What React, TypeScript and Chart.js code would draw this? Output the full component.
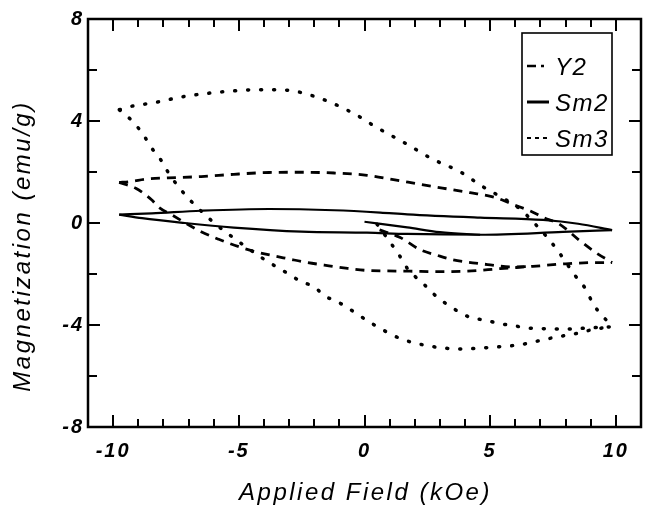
import React, { useEffect, useRef } from 'react';
import { Chart, registerables } from 'chart.js';

Chart.register(...registerables);

// ---- Data (Applied Field kOe, Magnetization emu/g) ----
const seriesNames = ['Y2', 'Sm2', 'Sm3'];

const y2Upper = [
  [-9.76, 1.59], [-9.37, 1.62], [-8.6, 1.73], [-7.8, 1.77], [-6.5, 1.82], [-5.2, 1.91],
  [-3.8, 1.98], [-2.5, 1.99], [-1.2, 1.96], [0.1, 1.87], [1.15, 1.7], [2.2, 1.52],
  [3.1, 1.37], [4.2, 1.19], [5.2, 1.0], [5.9, 0.73], [6.6, 0.47], [7.15, 0.2],
  [7.75, -0.04], [8.5, -0.64], [9.2, -1.16], [9.85, -1.55],
];
const y2Lower = [
  [-9.76, 1.59], [-9.1, 1.36], [-8.46, 0.9], [-8.2, 0.63], [-7.67, 0.32], [-6.5, -0.34],
  [-5.8, -0.64], [-5.0, -0.93], [-4.4, -1.11], [-3.7, -1.27], [-3.0, -1.41], [-2.4, -1.53],
  [-1.6, -1.65], [-0.67, -1.78], [0.1, -1.86], [0.9, -1.88], [1.8, -1.89], [2.9, -1.91],
  [4.1, -1.89], [5.4, -1.79], [6.7, -1.7], [8.0, -1.6], [9.3, -1.55], [9.85, -1.55],
];
const y2Virgin = [
  [0.6, -0.27], [1.42, -0.57], [2.2, -1.04], [2.9, -1.27], [3.5, -1.44], [4.3, -1.56],
  [4.9, -1.63], [5.8, -1.72], [6.7, -1.7],
];

const sm2Upper = [
  [-9.76, 0.33], [-8.46, 0.38], [-6.5, 0.48], [-3.8, 0.55], [-1.2, 0.5], [0.63, 0.41],
  [1.7, 0.34], [4.6, 0.21], [7.1, 0.12], [8.5, -0.03], [9.85, -0.28],
];
const sm2Lower = [
  [-9.76, 0.33], [-8.85, 0.19], [-7.15, 0.0], [-5.2, -0.18], [-2.5, -0.34], [0.1, -0.38],
  [1.7, -0.43], [4.6, -0.46], [7.9, -0.35], [9.85, -0.28],
];
const sm2Virgin = [
  [0.0, 0.05], [1.7, -0.17], [3.0, -0.36], [4.6, -0.46],
];

const sm3Upper = [
  [-9.75, 4.44], [-9.4, 4.55], [-8.3, 4.73], [-7.3, 4.94], [-6.2, 5.09], [-5.2, 5.18],
  [-4.2, 5.23], [-3.1, 5.21], [-2.1, 5.0], [-1.07, 4.61], [-0.08, 4.1], [0.36, 3.82],
  [1.6, 3.14], [2.7, 2.51], [3.8, 2.01], [4.7, 1.43], [5.5, 0.98], [6.2, 0.54],
  [6.8, -0.05], [7.3, -0.6], [7.7, -1.1], [8.4, -2.09], [8.8, -2.59], [9.1, -3.18],
  [9.5, -3.68], [9.85, -4.03],
];
const sm3Lower = [
  [-9.75, 4.44], [-9.2, 3.96], [-8.8, 3.46], [-8.46, 2.93], [-8.1, 2.47], [-7.8, 1.97],
  [-7.4, 1.42], [-6.96, 0.92], [-6.0, 0.02], [-5.5, -0.37], [-4.0, -1.42], [-3.5, -1.72],
  [-3.0, -2.01], [-2.5, -2.31], [-2.0, -2.5], [-1.6, -2.85], [-1.07, -3.09], [0.36, -3.98],
  [1.4, -4.52], [2.5, -4.81], [3.8, -4.94], [5.1, -4.87], [6.2, -4.77], [7.2, -4.56],
  [7.75, -4.45], [8.3, -4.36], [8.8, -4.24], [9.5, -4.11], [9.9, -4.07],
];
const sm3Virgin = [
  [0.5, -0.05], [1.03, -0.77], [1.4, -1.29], [1.74, -1.83], [2.3, -2.34], [2.77, -2.8],
  [3.3, -3.2], [4.2, -3.7], [4.8, -3.81], [5.4, -3.95], [5.9, -4.02], [6.4, -4.11],
  [7.0, -4.14], [8.0, -4.16], [9.0, -4.11], [9.85, -4.07],
];

const xTickValues = [-10, -5, 0, 5, 10];
const xTickLabels = ['-10', '-5', '0', '5', '10'];
const yTickValues = [-8, -4, 0, 4, 8];
const yTickLabels = ['-8', '-4', '0', '4', '8'];
const xMinorTickValues = [-10, -9, -8, -7, -6, -5, -4, -3, -2, -1, 0, 1, 2, 3, 4, 5, 6, 7, 8, 9, 10];
const yMinorTickValues = [-6, -4, -2, 0, 2, 4, 6];

const xTitle = 'Applied Field (kOe)';
const yTitle = 'Magnetization (emu/g)';

const FONT = '"Liberation Sans", Arial, Helvetica, sans-serif';
const INK = '#000';

const lineStyles: Record<string, any> = {
  Y2: { borderDash: [9, 7], borderWidth: 2.8, borderCapStyle: 'butt' },
  Sm2: { borderDash: [], borderWidth: 2.2, borderCapStyle: 'butt' },
  Sm3: { borderDash: [1, 12], borderWidth: 3.5, borderCapStyle: 'round' },
};

const toPts = (arr: number[][]) => arr.map(([x, y]) => ({ x, y }));

function makeDatasets() {
  const groups: [string, number[][][]][] = [
    ['Sm3', [sm3Upper, sm3Lower, sm3Virgin]],
    ['Y2', [y2Upper, y2Lower, y2Virgin]],
    ['Sm2', [sm2Upper, sm2Lower, sm2Virgin]],
  ];
  const out: any[] = [];
  for (const [name, branches] of groups) {
    branches.forEach((b, i) => {
      out.push({
        label: i === 0 ? name : name + ' branch ' + i,
        data: toPts(b),
        showLine: true,
        pointRadius: 0,
        borderColor: INK,
        backgroundColor: INK,
        fill: false,
        cubicInterpolationMode: 'monotone',
        ...lineStyles[name],
      });
    });
  }
  return out;
}

const framePlugin = {
  id: 'framePlugin',
  beforeDraw(chart: any) {
    chart.ctx.letterSpacing = '2px';
  },
  afterDatasetsDraw(chart: any) {
    const { ctx, chartArea: a, scales } = chart;
    const xs = scales.x;
    const ys = scales.y;
    ctx.save();
    ctx.strokeStyle = INK;
    ctx.setLineDash([]);
    // frame
    ctx.lineWidth = 2.5;
    ctx.strokeRect(a.left, a.top, a.right - a.left, a.bottom - a.top);
    // inward ticks
    ctx.lineWidth = 2;
    ctx.beginPath();
    for (const v of xMinorTickValues) {
      const px = Math.round(xs.getPixelForValue(v));
      const len = v % 5 === 0 ? 12 : 8;
      ctx.moveTo(px, a.bottom);
      ctx.lineTo(px, a.bottom - len);
      ctx.moveTo(px, a.top);
      ctx.lineTo(px, a.top + len);
    }
    for (const v of yMinorTickValues) {
      const py = Math.round(ys.getPixelForValue(v));
      const len = v % 4 === 0 ? 12 : 9;
      ctx.moveTo(a.left, py);
      ctx.lineTo(a.left + len, py);
      ctx.moveTo(a.right, py);
      ctx.lineTo(a.right - len, py);
    }
    ctx.stroke();

    // legend
    const lx = 522, ly = 33, lw = 90, lh = 122;
    ctx.fillStyle = '#fff';
    ctx.fillRect(lx, ly, lw, lh);
    ctx.lineWidth = 1.6;
    ctx.strokeRect(lx, ly, lw, lh);
    const rows = [68, 104, 140];
    const samples: Record<string, { dash: number[]; w: number }> = {
      Y2: { dash: [9, 5, 3, 6], w: 2.6 },
      Sm2: { dash: [], w: 3 },
      Sm3: { dash: [4, 4], w: 2 },
    };
    ctx.font = 'italic 24px ' + FONT;
    ctx.letterSpacing = '1.5px';
    ctx.textBaseline = 'middle';
    ctx.textAlign = 'left';
    ctx.fillStyle = INK;
    seriesNames.forEach((name, i) => {
      const s = samples[name];
      ctx.beginPath();
      ctx.setLineDash(s.dash);
      ctx.lineWidth = s.w;
      ctx.moveTo(527, rows[i] - 2);
      ctx.lineTo(549, rows[i] - 2);
      ctx.stroke();
      ctx.setLineDash([]);
      ctx.fillText(name, 555, rows[i]);
    });

    // axis titles
    ctx.letterSpacing = '2.5px';
    ctx.font = 'italic 24px ' + FONT;
    ctx.textAlign = 'center';
    ctx.textBaseline = 'middle';
    ctx.fillText(xTitle, (a.left + a.right) / 2 + 1, 493);
    ctx.save();
    ctx.translate(23, 246);
    ctx.rotate(-Math.PI / 2);
    ctx.fillText(yTitle, 0, 0);
    ctx.restore();

    ctx.restore();
  },
};

export default function App() {
  const ref = useRef<HTMLCanvasElement | null>(null);
  useEffect(() => {
    if (!ref.current) return;
    const tickFont = { family: FONT, size: 20, style: 'italic' as const, weight: 'bold' as const };
    const chart = new Chart(ref.current, {
      type: 'scatter',
      data: { datasets: makeDatasets() },
      options: {
        animation: false,
        responsive: false,
        devicePixelRatio: 1,
        layout: { padding: { top: 19, right: 6, left: 0, bottom: 0 } },
        plugins: { legend: { display: false }, tooltip: { enabled: false }, title: { display: false } },
        scales: {
          x: {
            type: 'linear',
            min: -11,
            max: 11,
            afterBuildTicks: (s: any) => {
              s.ticks = xTickValues.map((v) => ({ value: v }));
            },
            afterFit: (s: any) => {
              s.height = 81;
            },
            ticks: {
              autoSkip: false,
              maxRotation: 0,
              padding: 12,
              color: INK,
              font: tickFont,
              callback: (v: any) => {
                const i = xTickValues.indexOf(Number(v));
                return i >= 0 ? xTickLabels[i] : '';
              },
            },
            grid: { display: false, drawTicks: false },
            border: { display: false },
          },
          y: {
            type: 'linear',
            min: -8,
            max: 8,
            afterBuildTicks: (s: any) => {
              s.ticks = yTickValues.map((v) => ({ value: v }));
            },
            afterFit: (s: any) => {
              s.width = 88;
            },
            ticks: {
              autoSkip: false,
              padding: 4,
              color: INK,
              font: tickFont,
              callback: (v: any) => {
                const i = yTickValues.indexOf(Number(v));
                return i >= 0 ? yTickLabels[i] : '';
              },
            },
            grid: { display: false, drawTicks: false },
            border: { display: false },
          },
        },
      },
      plugins: [framePlugin],
    });
    return () => chart.destroy();
  }, []);

  return (
    <div style={{ position: 'fixed', left: 0, top: 0, width: 647, height: 508, background: '#fff' }}>
      <canvas ref={ref} width={647} height={508} style={{ display: 'block' }} />
    </div>
  );
}
